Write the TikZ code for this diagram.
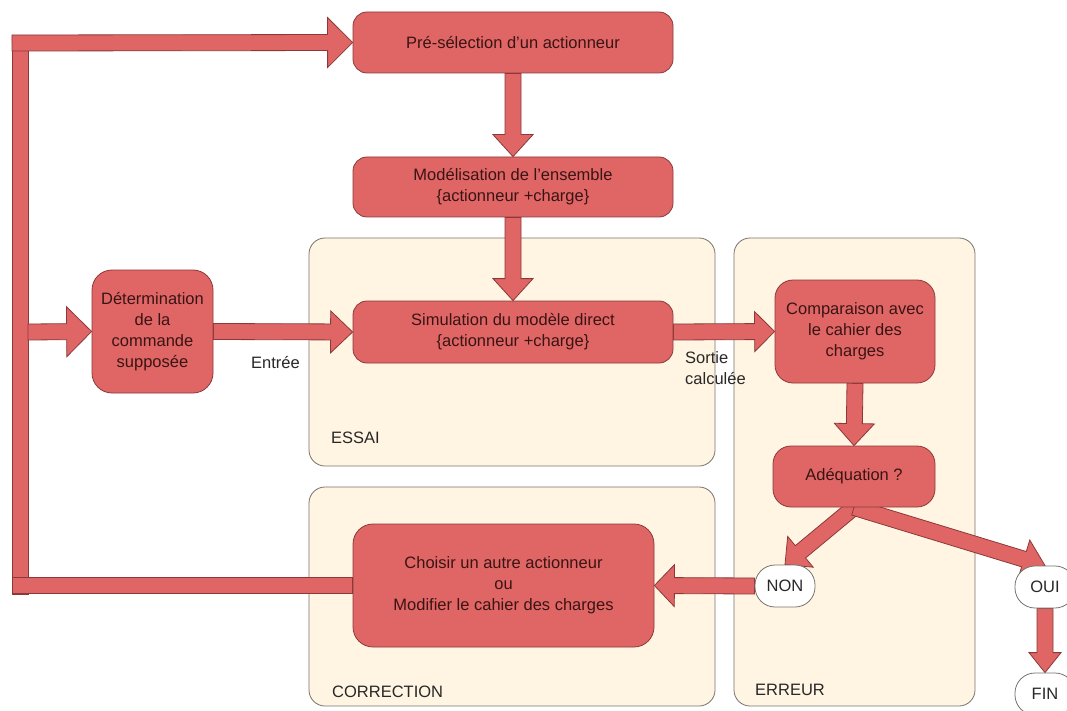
\documentclass[tikz,border=0pt]{standalone}
\usepackage{fontspec}
\setmainfont{Liberation Sans}
\usetikzlibrary{calc}
\pgfdeclarelayer{bg}
\pgfdeclarelayer{arr}
\pgfsetlayers{bg,arr,main}
\definecolor{boxred}{RGB}{224,102,102}
\definecolor{edgered}{RGB}{140,56,56}
\definecolor{txtred}{RGB}{58,20,20}
\definecolor{cream}{RGB}{255,245,226}
\definecolor{greyline}{RGB}{120,115,110}
\definecolor{labgrey}{RGB}{40,40,40}
\tikzset{
  blockarrow/.style={fill=boxred, draw=edgered, line width=0.8pt, line join=miter},
  box/.style={draw=edgered, fill=boxred, rounded corners=14pt, text=txtred, align=center,
    font=\fontsize{16.5}{21}\selectfont, inner sep=2pt, line width=0.8pt},
  pill/.style={draw=greyline, fill=white, rounded corners=20pt, minimum width=60pt,
    minimum height=42pt, font=\fontsize{16.5}{21}\selectfont, text=labgrey, line width=0.8pt},
  container/.style={draw=greyline, fill=cream, rounded corners=16pt, line width=0.8pt},
  lab/.style={font=\fontsize{16.5}{21}\selectfont, text=labgrey, anchor=west, align=left, inner sep=0pt}
}
% block arrow: start, end, head length, head half width
\newcommand\barrow[4]{%
  \begin{pgfonlayer}{arr}
  \path[blockarrow] let \p1=(#1), \p2=(#2),
    \n1={atan2(\y2-\y1,\x2-\x1)}, \n2={veclen(\x2-\x1,\y2-\y1)-#3} in
    ($(\p1)+(\n1+90:8pt)$) -- ($(\p1)+(\n1+90:8pt)+(\n1:\n2)$)
    -- ($(\p1)+(\n1+90:#4pt)+(\n1:\n2)$) -- (\p2)
    -- ($(\p1)+(\n1-90:#4pt)+(\n1:\n2)$)
    -- ($(\p1)+(\n1-90:8pt)+(\n1:\n2)$)
    -- ($(\p1)+(\n1-90:8pt)$) -- cycle;
  \end{pgfonlayer}}
% block bar without head
\newcommand\bbar[2]{%
  \begin{pgfonlayer}{arr}
  \path[blockarrow] let \p1=(#1), \p2=(#2), \n1={atan2(\y2-\y1,\x2-\x1)} in
    ($(\p1)+(\n1+90:8pt)$) -- ($(\p2)+(\n1+90:8pt)$) -- ($(\p2)+(\n1-90:8pt)$)
    -- ($(\p1)+(\n1-90:8pt)$) -- cycle;
  \end{pgfonlayer}}
\begin{document}
\begin{tikzpicture}[x=1pt, y=-1pt]
\useasboundingbox (0,0) rectangle (1067,711);

% background and containers
\begin{pgfonlayer}{bg}
\fill[white] (0,0) rectangle (1067,711);
\draw[container] (309,238) rectangle (715,466);
\draw[container] (734,238) rectangle (975,706);
\draw[container] (309,487) rectangle (715,706);
\end{pgfonlayer}
\node[lab] (lessai) at (331,438) {ESSAI};
\node[lab] (lcorr) at (332,692) {CORRECTION};
\node[lab] (lerr) at (755,690) {ERREUR};

% boxes
\node[box, minimum width=320pt, minimum height=61pt] (pre) at (513,42.5) {Pré-sélection d’un actionneur};
\node[box, minimum width=320pt, minimum height=60pt] (modele) at (513,187) {Modélisation de l’ensemble\\\{actionneur +charge\}};
\node[box, minimum width=320pt, minimum height=62pt] (sim) at (513,332) {Simulation du modèle direct\\\{actionneur +charge\}};
\node[box, minimum width=121pt, minimum height=123pt, rounded corners=20pt] (det) at (152.5,331.5) {Détermination\\de la\\commande\\supposée};
\node[box, minimum width=160pt, minimum height=103pt, rounded corners=18pt] (comp) at (855,331.5) {Comparaison avec\\le cahier des\\charges};
\node[box, minimum width=162pt, minimum height=61pt, rounded corners=18pt] (adeq) at (854,476.5) {Adéquation ?};
\node[box, minimum width=301pt, minimum height=123pt, rounded corners=20pt] (choisir) at (503.5,585.5) {Choisir un autre actionneur\\ou\\Modifier le cahier des charges};
\node[pill] (non) at (785,586) {NON};
\node[pill] (oui) at (1045,587) {OUI};
\node[pill] (fin) at (1045,694) {FIN};

% labels on connectors
\node[lab] (lentree) at (251,363) {Entrée};
\node[lab] (lsortie) at (685,368) {Sortie\\calculée};

% loop coordinates
\coordinate (lb) at (20,585.5);
\coordinate (lt) at (20,43);
\coordinate (lm) at (28,332);

% arrows
\bbar{$(lb)+(0,8.5)$}{$(lt)+(0,-8)$}
\bbar{choisir.west}{$(lb)+(-8,0)$}
\barrow{$(lt)+(-8,0)$}{pre.west}{25}{25}
\barrow{lm}{det.west}{25}{25}
\barrow{pre.south}{modele.north}{22}{20}
\barrow{modele.south}{sim.north}{22}{20}
\barrow{det.east}{sim.west}{22}{21}
\barrow{sim.east}{comp.west}{20}{20}
\barrow{comp.south}{adeq.north}{22}{20}
\barrow{adeq.south}{non.north}{20}{20}
\barrow{adeq.south}{oui.north}{22}{20}
\barrow{non.west}{choisir.east}{20}{21}
\barrow{oui.south}{fin.north}{20}{16}
\end{tikzpicture}
\end{document}
